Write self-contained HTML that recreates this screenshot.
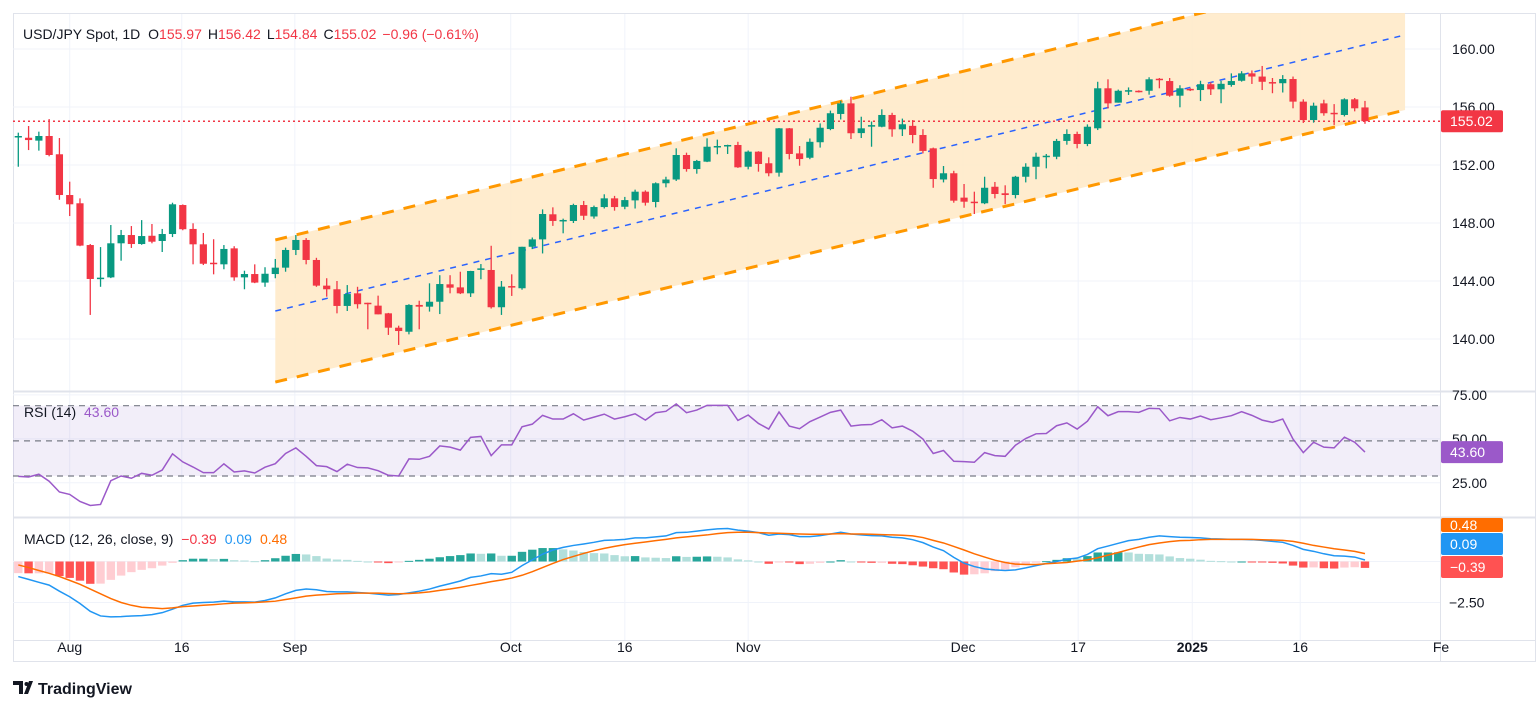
<!DOCTYPE html>
<html><head><meta charset="utf-8"><style>
html,body{margin:0;padding:0;background:#fff;}
svg{display:block;font-family:"Liberation Sans",sans-serif;}
</style></head><body>
<svg id="chart" width="1536" height="711" viewBox="0 0 1536 711" xmlns="http://www.w3.org/2000/svg">
<defs>
<clipPath id="mainClip"><rect x="13" y="13" width="1427" height="378"/></clipPath>
<clipPath id="plotClip"><rect x="13" y="13" width="1427" height="627"/></clipPath>
</defs>
<rect x="0" y="0" width="1536" height="711" fill="#fff"/>
<g id="grid"></g>
<g id="main" clip-path="url(#mainClip)"></g>
<g id="rsi"></g>
<g id="macd" clip-path="url(#plotClip)"></g>
<g id="axes"></g>
<g id="legend">
<text x="23" y="39" font-size="14" fill="#131722">USD/JPY Spot, 1D <tspan dx="4">O</tspan><tspan fill="#f23645">155.97</tspan><tspan dx="6">H</tspan><tspan fill="#f23645">156.42</tspan><tspan dx="6">L</tspan><tspan fill="#f23645">154.84</tspan><tspan dx="6">C</tspan><tspan fill="#f23645">155.02</tspan><tspan dx="6" fill="#f23645">−0.96 (−0.61%)</tspan></text>
<text x="24" y="417" font-size="14" fill="#131722">RSI (14) <tspan dx="4" fill="#9b59c9">43.60</tspan></text>
<text x="24" y="544" font-size="14" fill="#131722">MACD (12, 26, close, 9) <tspan dx="4" fill="#f23645">−0.39</tspan><tspan dx="8" fill="#2196f3">0.09</tspan><tspan dx="8" fill="#ff6d00">0.48</tspan></text>
</g>
<g>
<path d="M13 681h10v13h-4v-9h-6z M24 694l5-13h4l-5 13z" fill="#131722"/>
<circle cx="26.5" cy="684" r="2" fill="#131722"/>
<text x="38" y="694" font-size="16" font-weight="bold" fill="#131722">TradingView</text>
</g>
</svg>
<script>
const opens=[153.90,153.88,153.68,154.00,152.74,149.93,149.36,146.48,144.14,144.25,146.60,147.17,146.55,147.12,146.76,147.24,149.24,147.59,146.53,145.26,145.15,146.25,144.25,144.48,143.89,144.48,144.92,146.14,146.83,145.45,143.68,143.43,142.28,143.15,142.50,142.30,141.77,140.78,140.50,142.35,142.23,142.57,143.77,143.56,143.15,144.80,144.76,142.19,143.65,143.50,146.36,146.87,148.60,148.17,148.14,149.24,148.45,149.10,149.70,149.12,149.56,150.16,149.45,150.74,151.00,152.69,151.72,152.23,153.25,153.35,153.38,151.88,152.92,152.12,151.47,154.53,152.80,152.50,153.57,154.48,155.52,156.25,154.20,154.70,154.64,155.45,154.46,154.70,154.07,153.15,151.00,151.43,149.75,149.47,149.36,150.50,150.05,149.93,151.19,151.88,152.60,152.57,153.66,154.14,153.45,154.53,157.29,156.30,157.10,157.12,157.12,157.95,157.79,156.78,157.25,157.17,157.57,157.22,157.52,157.81,158.32,158.10,157.72,157.64,157.93,156.37,155.10,156.25,155.60,155.45,156.53,155.97];
const highs=[154.23,154.69,154.30,155.17,153.86,150.85,149.70,146.55,146.34,147.86,147.52,147.79,148.20,147.93,147.59,149.40,149.28,147.98,147.31,146.88,146.48,146.40,144.71,145.15,144.95,145.52,146.30,147.17,146.96,145.60,144.19,144.00,143.72,143.60,142.50,142.99,141.80,140.92,142.40,142.64,143.84,144.40,144.40,144.64,144.70,145.17,146.43,144.00,144.46,146.36,147.00,148.94,149.08,148.30,149.33,149.52,149.20,149.98,149.87,149.80,150.30,150.25,150.80,151.19,153.15,152.85,152.35,153.84,153.75,153.40,153.60,153.00,152.95,152.53,154.55,154.55,153.31,153.83,154.87,155.75,156.43,156.71,155.33,155.00,155.84,155.60,155.20,155.10,154.47,153.20,151.93,151.60,150.69,150.16,151.19,150.83,150.60,151.25,152.12,152.85,152.76,153.80,154.46,154.30,154.80,157.74,157.91,157.20,157.35,157.15,158.05,158.00,158.00,157.50,157.30,157.81,157.70,157.80,158.32,158.47,158.52,158.83,158.00,158.20,158.10,156.53,156.30,156.50,156.20,156.60,156.62,156.42];
const lows=[151.88,153.03,152.99,152.60,149.60,148.48,146.40,141.66,143.60,144.20,145.40,146.28,146.50,146.60,146.00,147.03,147.50,145.15,145.10,144.46,144.81,144.02,143.43,143.85,143.60,144.19,144.64,145.79,145.15,143.60,142.92,141.77,141.93,142.10,140.67,141.70,140.28,139.59,140.32,140.67,141.89,141.72,143.15,143.10,142.90,144.12,142.10,141.66,142.97,143.40,146.20,145.90,147.80,147.29,148.00,148.21,148.30,149.00,148.85,148.95,149.00,149.20,149.08,150.46,150.90,151.54,151.40,152.20,152.74,152.76,151.80,151.70,151.54,151.22,151.20,152.39,151.95,152.40,153.20,154.40,155.14,153.79,153.86,153.26,154.60,153.95,154.00,153.50,152.80,150.43,150.80,149.40,149.05,148.62,149.30,149.70,149.30,149.70,150.80,151.02,151.77,152.40,153.40,153.15,153.30,154.41,155.91,156.30,156.83,157.00,156.85,157.29,156.71,155.98,157.10,156.41,156.83,156.26,157.40,157.75,157.59,157.17,156.95,157.00,155.91,154.90,154.92,155.40,154.76,155.35,155.70,154.84];
const closes=[154.00,153.72,154.00,152.69,149.93,149.29,146.44,144.14,144.23,146.60,147.17,146.55,147.10,146.71,147.24,149.29,147.57,146.53,145.19,145.19,146.21,144.25,144.48,143.89,144.50,144.92,146.14,146.83,145.45,143.68,143.43,142.28,143.10,142.40,142.40,141.70,140.78,140.55,142.35,142.23,142.57,143.79,143.54,143.15,144.69,144.87,142.19,143.61,143.56,146.36,146.87,148.62,148.14,148.21,149.24,148.50,149.10,149.70,149.10,149.58,150.16,149.40,150.74,151.00,152.69,151.72,152.28,153.26,153.31,153.38,151.84,152.92,152.07,151.43,154.53,152.76,152.41,153.60,154.57,155.57,156.25,154.19,154.53,154.75,155.45,154.46,154.81,154.07,152.97,151.03,151.43,149.54,149.47,149.38,150.43,150.00,149.93,151.19,151.88,152.57,152.64,153.66,154.14,153.45,154.64,157.29,156.25,157.12,157.16,157.06,157.91,157.88,156.78,157.29,157.16,157.57,157.22,157.60,157.79,158.32,158.10,157.74,157.66,157.93,156.37,155.10,156.09,155.57,155.54,156.53,155.91,155.02];
const rsiValues=[29.8,29.4,31,27,20.9,19.5,15.5,13.2,13.8,27.3,30,28.7,31.5,30.4,33.4,42.6,38,35.1,31.9,31.9,36.9,32.3,32.9,31.7,35,37,42.8,46,41.2,35.9,35.3,32.5,36.7,34.8,34.6,33,30.4,30,39.7,39.5,41.2,47.1,46.4,44.7,52,52.5,41.6,47.7,47.7,58,59.5,64.5,62.4,62.4,65.4,61.8,63.5,65.2,62.4,63.7,65.4,61.8,66,66.8,71,66,67.5,70.2,70.2,70.2,61.6,64.7,59.9,56.7,66.4,58.4,56.9,60.9,63.5,66.2,67.5,58.4,59.1,59.3,62,57.4,58.4,55.5,51,42.8,44.5,38.4,38.2,37.8,43.3,41.6,41.2,47.5,51.3,54,54.2,58.6,60.2,56.7,61.2,69.4,64.3,66.6,66.6,66.2,68.5,68.3,61.4,63.3,62.4,64.1,62,63.1,64.3,66.6,64.5,61.8,60.5,62.4,51,43.3,49.2,46.4,46,52.1,49.2,43.6];
const macdValues=[-0.92,-1.09,-1.27,-1.44,-1.81,-2.15,-2.56,-3.04,-3.32,-3.38,-3.36,-3.32,-3.30,-3.24,-3.12,-2.91,-2.67,-2.54,-2.50,-2.48,-2.42,-2.46,-2.46,-2.48,-2.38,-2.22,-1.97,-1.76,-1.68,-1.72,-1.83,-1.85,-1.85,-1.89,-1.93,-1.99,-2.05,-2.01,-1.91,-1.81,-1.68,-1.50,-1.35,-1.19,-0.97,-0.88,-0.74,-0.78,-0.66,-0.25,0.10,0.45,0.70,0.86,0.98,1.07,1.17,1.29,1.31,1.35,1.44,1.44,1.50,1.56,1.76,1.78,1.85,1.93,1.99,2.01,1.91,1.85,1.76,1.60,1.68,1.64,1.52,1.52,1.58,1.68,1.78,1.68,1.62,1.58,1.56,1.48,1.44,1.33,1.15,0.88,0.66,0.25,-0.10,-0.31,-0.45,-0.51,-0.55,-0.51,-0.39,-0.25,-0.12,0,0.14,0.21,0.43,0.78,0.94,1.11,1.27,1.35,1.48,1.56,1.52,1.48,1.46,1.44,1.39,1.37,1.35,1.35,1.33,1.29,1.23,1.17,0.98,0.74,0.62,0.47,0.35,0.33,0.27,0.09];
const signalValues=[-0.21,-0.37,-0.55,-0.72,-0.92,-1.15,-1.39,-1.68,-1.97,-2.26,-2.50,-2.67,-2.79,-2.83,-2.87,-2.83,-2.75,-2.71,-2.67,-2.63,-2.58,-2.54,-2.52,-2.50,-2.46,-2.42,-2.32,-2.22,-2.11,-2.05,-2.01,-1.97,-1.95,-1.93,-1.93,-1.93,-1.95,-1.97,-1.95,-1.91,-1.85,-1.76,-1.68,-1.58,-1.46,-1.35,-1.23,-1.13,-1.01,-0.84,-0.62,-0.37,-0.12,0.12,0.31,0.49,0.66,0.80,0.92,1.03,1.11,1.19,1.27,1.35,1.44,1.50,1.56,1.62,1.70,1.76,1.78,1.78,1.76,1.74,1.72,1.70,1.68,1.66,1.66,1.68,1.70,1.68,1.68,1.66,1.64,1.62,1.60,1.56,1.46,1.29,1.13,0.92,0.70,0.47,0.27,0.08,-0.06,-0.16,-0.18,-0.18,-0.14,-0.10,-0.06,0.02,0.10,0.23,0.39,0.55,0.72,0.88,1.03,1.13,1.21,1.27,1.29,1.33,1.35,1.35,1.35,1.35,1.35,1.33,1.31,1.29,1.23,1.11,0.98,0.88,0.78,0.70,0.62,0.48];
const histValues=[-0.71,-0.72,-0.72,-0.72,-0.89,-1.00,-1.17,-1.36,-1.35,-1.12,-0.86,-0.65,-0.51,-0.41,-0.25,-0.08,0.08,0.17,0.17,0.15,0.16,0.08,0.06,0.02,0.08,0.20,0.35,0.46,0.43,0.33,0.18,0.12,0.10,0.04,0.00,-0.06,-0.10,-0.04,0.04,0.10,0.17,0.26,0.33,0.39,0.49,0.47,0.49,0.35,0.35,0.59,0.72,0.82,0.82,0.74,0.67,0.58,0.51,0.49,0.39,0.32,0.33,0.25,0.23,0.21,0.32,0.28,0.29,0.31,0.29,0.25,0.13,0.07,0.00,-0.14,-0.04,-0.06,-0.16,-0.14,-0.08,0.00,0.08,0.00,-0.06,-0.08,-0.08,-0.14,-0.16,-0.23,-0.31,-0.41,-0.47,-0.67,-0.80,-0.78,-0.72,-0.59,-0.49,-0.35,-0.21,-0.07,0.02,0.10,0.20,0.19,0.33,0.55,0.55,0.56,0.55,0.47,0.45,0.43,0.31,0.21,0.17,0.11,0.04,0.02,0.00,0.00,-0.02,-0.04,-0.08,-0.12,-0.25,-0.37,-0.36,-0.41,-0.43,-0.37,-0.35,-0.39];
const priceTicks=[160,156,152,148,144,140];
const rsiTicks=[75,50,25];
const rsiLevels=[70,50,30];
const macdTicks=[-2.5];
const timeLabels=["Aug","16","Sep","Oct","16","Nov","Dec","17","2025","16","Fe"];
const timeIndex=[5,15.9,26.9,47.9,59,71,91.9,103.1,114.2,124.7,138.4];
const channelUpper=[[25,146.83],[134.9,165.93]];
const channelLower=[[25,137.03],[134.9,155.79]];
const channelMid=[[25,141.93],[134.9,160.97]];
const lastPrice=155.02;

const NS="http://www.w3.org/2000/svg";
function mk(tag,attrs,parent){const e=document.createElementNS(NS,tag);for(const k in attrs)e.setAttribute(k,attrs[k]);parent.appendChild(e);return e;}
const xOf=i=>18.3+i*10.28;
const yP=p=>49+(160-p)*14.5;
const yR=v=>405.7+(70-v)*1.757;
const yM=v=>561.5-v*16.4;
const G=document.getElementById('grid'),M=document.getElementById('main'),R=document.getElementById('rsi'),D=document.getElementById('macd'),A=document.getElementById('axes');

mk('rect',{x:13.5,y:13.5,width:1522,height:648,fill:'none',stroke:'#e0e3eb'},G);
timeIndex.forEach(t=>{const x=xOf(t);if(x<1440)mk('line',{x1:x,y1:14,x2:x,y2:640,stroke:'#f0f3fa'},G);});
priceTicks.forEach(p=>mk('line',{x1:13,y1:yP(p),x2:1440,y2:yP(p),stroke:'#f0f3fa'},G));
rsiTicks.forEach(v=>mk('line',{x1:13,y1:yR(v)-2,x2:1440,y2:yR(v)-2,stroke:'#f0f3fa'},G));
mk('line',{x1:13,y1:yM(-2.5),x2:1440,y2:yM(-2.5),stroke:'#f0f3fa'},G);
mk('line',{x1:13,y1:yM(0),x2:1440,y2:yM(0),stroke:'#f0f3fa'},G);
mk('line',{x1:13,y1:391.5,x2:1536,y2:391.5,stroke:'#e0e3eb',"stroke-width":2},G);
mk('line',{x1:13,y1:517.5,x2:1536,y2:517.5,stroke:'#e0e3eb',"stroke-width":2},G);
mk('line',{x1:13,y1:640.5,x2:1536,y2:640.5,stroke:'#e0e3eb'},G);
mk('line',{x1:1440.5,y1:13,x2:1440.5,y2:662,stroke:'#e0e3eb'},G);

const poly=[channelUpper[0],channelUpper[1],channelLower[1],channelLower[0]].map(d=>xOf(d[0])+','+yP(d[1])).join(' ');
const ch=mk('polygon',{points:poly,fill:'#ffe9c6',opacity:0.85},M);


[[channelUpper,'#ff9800',3,'12 10','channel-upper-line'],[channelLower,'#ff9800',3,'12 10','channel-lower-line'],[channelMid,'#2962ff',1.5,'6 6','channel-mid-line']].forEach(c=>{
 const l=mk('line',{x1:xOf(c[0][0][0]),y1:yP(c[0][0][1]),x2:xOf(c[0][1][0]),y2:yP(c[0][1][1]),stroke:c[1],"stroke-width":c[2],"stroke-dasharray":c[3]},M);
 
 
});
const lp=mk('line',{x1:13,y1:yP(lastPrice),x2:1440,y2:yP(lastPrice),stroke:'#f23645',"stroke-width":1.5,"stroke-dasharray":'2 3'},M);



closes.forEach((c,i)=>{
 const o=opens[i],up=c>=o,col=up?'#089981':'#f23645',x=xOf(i);
 const g=mk('g',{},M);
 
 
 mk('line',{x1:x,y1:yP(highs[i]),x2:x,y2:yP(lows[i]),stroke:col,"stroke-width":1.3},g);
 const top=yP(Math.max(o,c)),h=Math.max(1.5,Math.abs(yP(o)-yP(c)));
 mk('rect',{x:x-3.6,y:top,width:7.2,height:h,fill:col},g);
});

const band=mk('rect',{x:13,y:yR(70),width:1427,height:yR(30)-yR(70),fill:'#7e57c2',"fill-opacity":0.1},R);


rsiLevels.forEach(v=>{const l=mk('line',{x1:13,y1:yR(v),x2:1440,y2:yR(v),stroke:'#787b86',"stroke-width":1.2,"stroke-dasharray":'6 5'},R);
 
 });
const rl=mk('polyline',{points:rsiValues.map((v,i)=>xOf(i)+','+yR(v)).join(' '),fill:'none',stroke:'#9b59c9',"stroke-width":1.5},R);



histValues.forEach((v,i)=>{
 const prev=i>0?histValues[i-1]:v;let col;
 if(v>=0)col=v>=prev?'#26a69a':'#b2dfdb';else col=v<prev?'#ff5252':'#ffcdd2';
 const y0=yM(0),y1=yM(v);
 const r=mk('rect',{x:xOf(i)-4.2,y:Math.min(y0,y1),width:8.4,height:Math.max(1,Math.abs(y1-y0)),fill:col},D);
 
 
});
const ml=mk('polyline',{points:macdValues.map((v,i)=>xOf(i)+','+yM(v)).join(' '),fill:'none',stroke:'#2196f3',"stroke-width":1.5},D);


const sl=mk('polyline',{points:signalValues.map((v,i)=>xOf(i)+','+yM(v)).join(' '),fill:'none',stroke:'#ff6d00',"stroke-width":1.5},D);



priceTicks.forEach(p=>{const t=mk('text',{x:1452,y:yP(p)+5,"font-size":14,fill:'#131722'},A);t.textContent=p.toFixed(2);
 
 });
rsiTicks.forEach(v=>{const t=mk('text',{x:1452,y:yR(v)+3,"font-size":14,fill:'#131722'},A);t.textContent=v.toFixed(2);
 
 });
macdTicks.forEach(v=>{const t=mk('text',{x:1449,y:yM(v)+5,"font-size":14,fill:'#131722'},A);t.textContent='−'+Math.abs(v).toFixed(2);
 
 });
timeLabels.forEach((s,i)=>{const t=mk('text',{x:xOf(timeIndex[i]),y:652,"font-size":14,fill:'#131722',"text-anchor":'middle',"font-weight":s==='2025'?'bold':'normal'},A);t.textContent=s;
 
 });
function badge(y,h,col,txt,name){const g=mk('g',{},A);
 
 
 mk('rect',{x:1441,y:y,width:62,height:h,fill:col,rx:2},g);
 const t=mk('text',{x:1450,y:y+h/2+5,"font-size":14,fill:'#fff'},g);t.textContent=txt;}
badge(yP(lastPrice)-11,22,'#f23645','155.02','last-price-badge');
badge(yR(43.6)-11,22,'#9b59c9','43.60','rsi-value-badge');
badge(518,14,'#ff6d00','0.48','signal-value-badge');
badge(533,22,'#2196f3','0.09','macd-value-badge');
badge(556,22,'#ff5252','−0.39','histogram-value-badge');
</script>
</body></html>
